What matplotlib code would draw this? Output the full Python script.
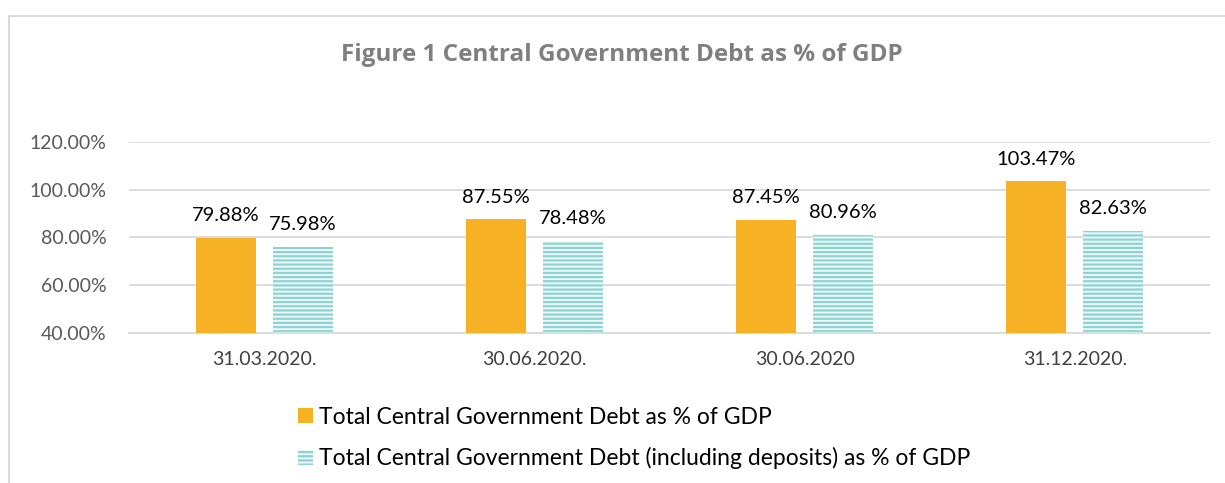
import matplotlib
matplotlib.use("Agg")
import matplotlib.pyplot as plt
import numpy as np

# data
dates = ["31.03.2020.", "30.06.2020.", "30.06.2020", "31.12.2020."]
total_debt = [79.88, 87.55, 87.45, 103.47]
debt_incl_deposits = [75.98, 78.48, 80.96, 82.63]
yticks = [40, 60, 80, 100, 120]

orange = "#f6b124"
teal = "#8dd3d3"

plt.rcParams["font.family"] = ["Lato", "DejaVu Sans"]
plt.rcParams["hatch.linewidth"] = 1.6
plt.rcParams["hatch.color"] = teal

fig = plt.figure(figsize=(12.25, 4.83), dpi=100)
ax = fig.add_axes([129 / 1225, 1 - 333 / 483, 1081 / 1225, 191 / 483])

x = np.arange(len(dates))
off = 38.5 / 270
w = 60 / 270
b1 = ax.bar(x - off, np.array(total_debt) - 40, w, bottom=40, color=orange,
            label="Total Central Government Debt as % of GDP", zorder=3)
b2 = ax.bar(x + off, np.array(debt_incl_deposits) - 40, w, bottom=40,
            facecolor="#eef8f8", edgecolor=teal, linewidth=0, hatch="----",
            label="Total Central Government Debt (including deposits) as % of GDP",
            zorder=3)

for xi, v in zip(x - off, total_debt):
    ax.annotate(f"{v:.2f}%", (xi, v), xytext=(0, 16), textcoords="offset points",
                ha="center", va="center", fontsize=14.5, color="black")
for xi, v in zip(x + off, debt_incl_deposits):
    ax.annotate(f"{v:.2f}%", (xi, v), xytext=(0, 16), textcoords="offset points",
                ha="center", va="center", fontsize=14.5, color="black")

ax.set_xlim(-0.5, len(dates) - 0.5)
ax.set_ylim(40, 120)
ax.set_yticks(yticks)
ax.set_yticklabels([f"{t:.2f}%" for t in yticks], fontsize=14, color="#595959")
ax.set_xticks(x)
ax.set_xticklabels(dates, fontsize=14, color="#404040")
ax.tick_params(axis="y", length=0, pad=16)
ax.tick_params(axis="x", length=0, pad=13)
ax.grid(axis="y", color="#d9d9d9", linewidth=1.3, zorder=0)
for s in ["top", "right", "left"]:
    ax.spines[s].set_visible(False)
ax.spines["bottom"].set_color("#d9d9d9")
ax.spines["bottom"].set_linewidth(1.3)

fig.text(622 / 1225, 1 - 55 / 483, "Figure 1 Central Government Debt as % of GDP",
         ha="center", va="center", fontsize=17.5, fontweight="bold", color="#7f7f7f",
         family=["Open Sans", "DejaVu Sans"])

fig.legend(handles=[b1, b2], loc="upper left", bbox_to_anchor=(277 / 1225, 1 - 386 / 483),
           frameon=False, fontsize=16.5, handlelength=0.65, handleheight=0.65,
           handletextpad=0.3, labelspacing=0.85)

# light frame around the chart area
fig.add_artist(plt.Line2D([9 / 1225, 9 / 1225], [0, 1 - 16 / 483], color="#d9d9d9",
                          linewidth=1.5, transform=fig.transFigure))
fig.add_artist(plt.Line2D([9 / 1225, 1], [1 - 16 / 483, 1 - 16 / 483], color="#d9d9d9",
                          linewidth=1.5, transform=fig.transFigure))

fig.savefig("out.png", dpi=100)
